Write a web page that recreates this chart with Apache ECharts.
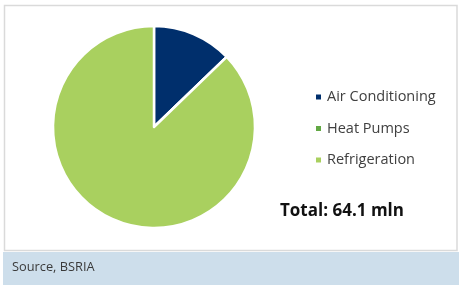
<!DOCTYPE html>
<html>
<head>
<meta charset="utf-8">
<script src="https://cdn.jsdelivr.net/npm/echarts@6/dist/echarts.min.js"></script>
<style>html,body{margin:0;padding:0;background:#fff}#c{width:465px;height:292px}</style>
</head>
<body>
<div id="c"></div>
<script>
const categories = ["Air Conditioning", "Heat Pumps", "Refrigeration"];
const values = [8.2, 0, 55.9];
const colors = ["#002f6c", "#62a844", "#a9d05f"];
const totalLabel = "Total: 64.1 mln";
const sourceLabel = "Source, BSRIA";

const chart = echarts.init(document.getElementById('c'), null, {renderer: 'canvas'});
chart.setOption({
  animation: false,
  color: colors,
  legend: {
    orient: 'vertical',
    left: 309,
    top: 84,
    icon: 'rect',
    itemWidth: 7,
    itemHeight: 7,
    itemGap: 15.5,
    data: categories,
    textStyle: {fontFamily: 'Open Sans', fontSize: 14.5, color: '#404040', lineHeight: 16}
  },
  graphic: [
    {type: 'rect', z: -1, shape: {x: 4.5, y: 5.5, width: 452.5, height: 245}, style: {fill: '#fff', stroke: '#dadada', lineWidth: 1.5}},
    {type: 'rect', z: -1, shape: {x: 3, y: 252, width: 456, height: 33}, style: {fill: '#cddeeb'}},
    {type: 'text', left: 12, top: 261, style: {text: sourceLabel, fontFamily: 'Open Sans', fontSize: 12.8, fill: '#3a3a3a'}},
    {type: 'text', left: 280, top: 203, style: {text: totalLabel, fontFamily: 'Open Sans', fontWeight: 'bold', fontSize: 17, fill: '#111'}}
  ],
  series: [{
    type: 'pie',
    center: [154, 127],
    radius: 101,
    startAngle: 90,
    clockwise: true,
    label: {show: false},
    labelLine: {show: false},
    itemStyle: {borderColor: '#fff', borderWidth: 2.5},
    emphasis: {disabled: true},
    data: categories.map((n, i) => ({name: n, value: values[i]}))
  }]
});
</script>
</body>
</html>
